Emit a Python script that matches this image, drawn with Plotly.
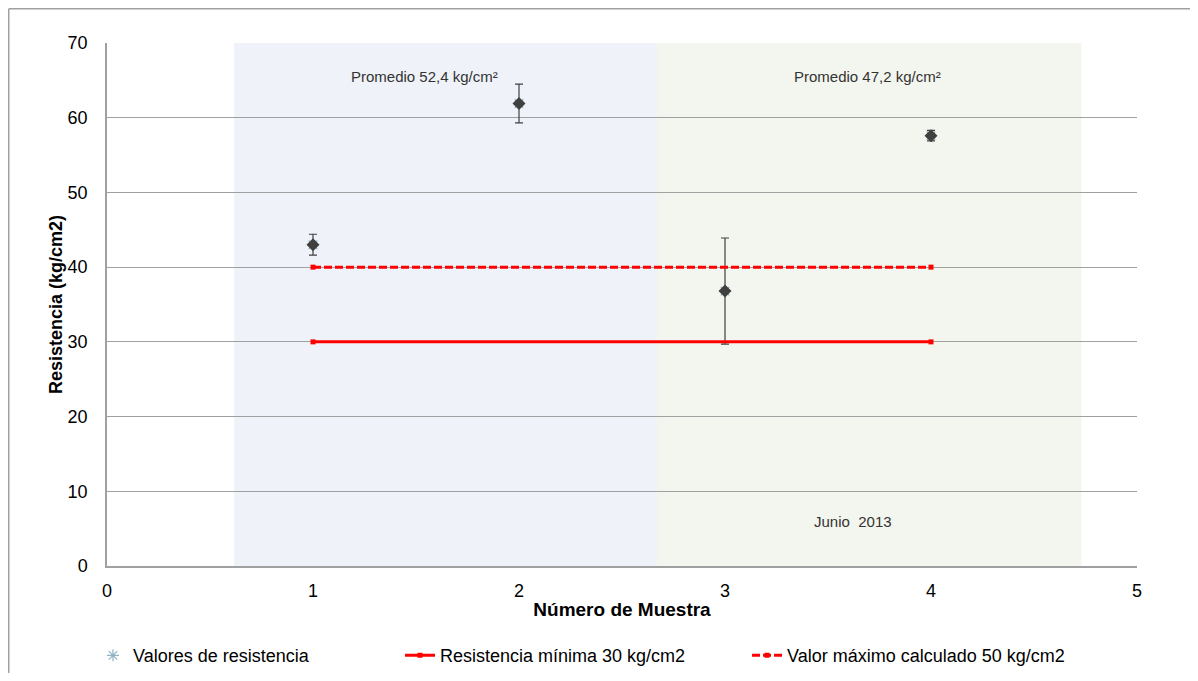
import plotly.graph_objects as go

muestras = [1, 2, 3, 4]
resistencia = [43.0, 61.9, 36.8, 57.6]
error = [1.4, 2.6, 7.1, 0.7]

linea_x = [1, 4]
minima_y = [30, 30]
maximo_y = [40, 40]

region_x = [[0.617, 2.67], [2.67, 4.73]]
region_colors = ["#eff3f9", "#f3f6ee"]

FONT = "Liberation Sans, Arial, sans-serif"

fig = go.Figure()

fig.add_trace(go.Scatter(
    x=muestras, y=resistencia, mode="markers",
    name="Valores de resistencia", legend="legend",
    marker=dict(symbol="asterisk-open", size=10, color="#8fb3c2", line=dict(width=1.2, color="#8fb3c2")),
    error_y=dict(type="data", array=error, visible=True, color="#404040", thickness=1.2, width=4),
))
fig.add_trace(go.Scatter(
    x=muestras, y=resistencia, mode="markers", showlegend=False, hoverinfo="skip",
    marker=dict(symbol="diamond", size=10, color="#404040"),
))
fig.add_trace(go.Scatter(
    x=linea_x, y=minima_y, mode="lines+markers",
    name="Resistencia mínima 30 kg/cm2", legend="legend2",
    line=dict(color="#ff0000", width=3),
    marker=dict(symbol="square", size=5, color="#ff0000"),
))
fig.add_trace(go.Scatter(
    x=linea_x, y=maximo_y, mode="lines+markers",
    name="Valor máximo calculado 50 kg/cm2", legend="legend3",
    line=dict(color="#ff0000", width=3, dash="8px,3px"),
    marker=dict(symbol="square", size=5, color="#ff0000"),
))

for (x0, x1), c in zip(region_x, region_colors):
    fig.add_shape(type="rect", xref="x", yref="paper", x0=x0, x1=x1, y0=0, y1=1,
                  fillcolor=c, line=dict(width=0), layer="below")

# outer frame (top and left edges)
fig.add_shape(type="line", xref="paper", yref="paper", x0=-0.0954, x1=1.2, y0=1.0655, y1=1.0655,
              line=dict(color="#a0a0a0", width=1.5))
fig.add_shape(type="line", xref="paper", yref="paper", x0=-0.0954, x1=-0.0954, y0=1.0655, y1=-0.3,
              line=dict(color="#a0a0a0", width=1.5))

ann_font = dict(family=FONT, size=15, color="#333333")
fig.add_annotation(x=1.54, y=65.5, text="Promedio 52,4 kg/cm²", showarrow=False, font=ann_font)
fig.add_annotation(x=3.69, y=65.5, text="Promedio 47,2 kg/cm²", showarrow=False, font=ann_font)
fig.add_annotation(x=3.62, y=5.9, text="Junio  2013", showarrow=False, font=ann_font)

leg_common = dict(orientation="h", y=-0.136, xanchor="left", yanchor="top",
                  font=dict(family=FONT, size=18, color="black"),
                  itemwidth=30, bgcolor="rgba(0,0,0,0)")

fig.update_layout(
    width=1182, height=665,
    margin=dict(l=99, r=53, t=35, b=107, autoexpand=False),
    paper_bgcolor="white", plot_bgcolor="white",
    font=dict(family=FONT, size=18, color="black"),
    showlegend=True,
    legend=dict(x=-0.0136, **leg_common),
    legend2=dict(x=0.2845, **leg_common),
    legend3=dict(x=0.6214, **leg_common),
)
fig.update_xaxes(
    range=[0, 5], tickvals=[0, 1, 2, 3, 4, 5], ticks="", ticklabelstandoff=8,
    showgrid=False, showline=True, linecolor="#a0a0a0", linewidth=1.5, zeroline=False,
    automargin=False,
    title=dict(text="<b>Número de Muestra</b>", standoff=2, font=dict(family=FONT, size=19)),
    tickfont=dict(family=FONT, size=18),
)
fig.update_yaxes(
    range=[0, 70], tickvals=[0, 10, 20, 30, 40, 50, 60, 70], ticks="", ticklabelstandoff=14,
    showgrid=True, gridcolor="#a0a0a0", gridwidth=1, showline=True, linecolor="#a0a0a0", linewidth=1.5,
    zeroline=False, automargin=False,
    title=dict(text="<b>Resistencia (kg/cm2)</b>", standoff=0, font=dict(family=FONT, size=18)),
    tickfont=dict(family=FONT, size=18),
)

fig.write_html("out.html")
